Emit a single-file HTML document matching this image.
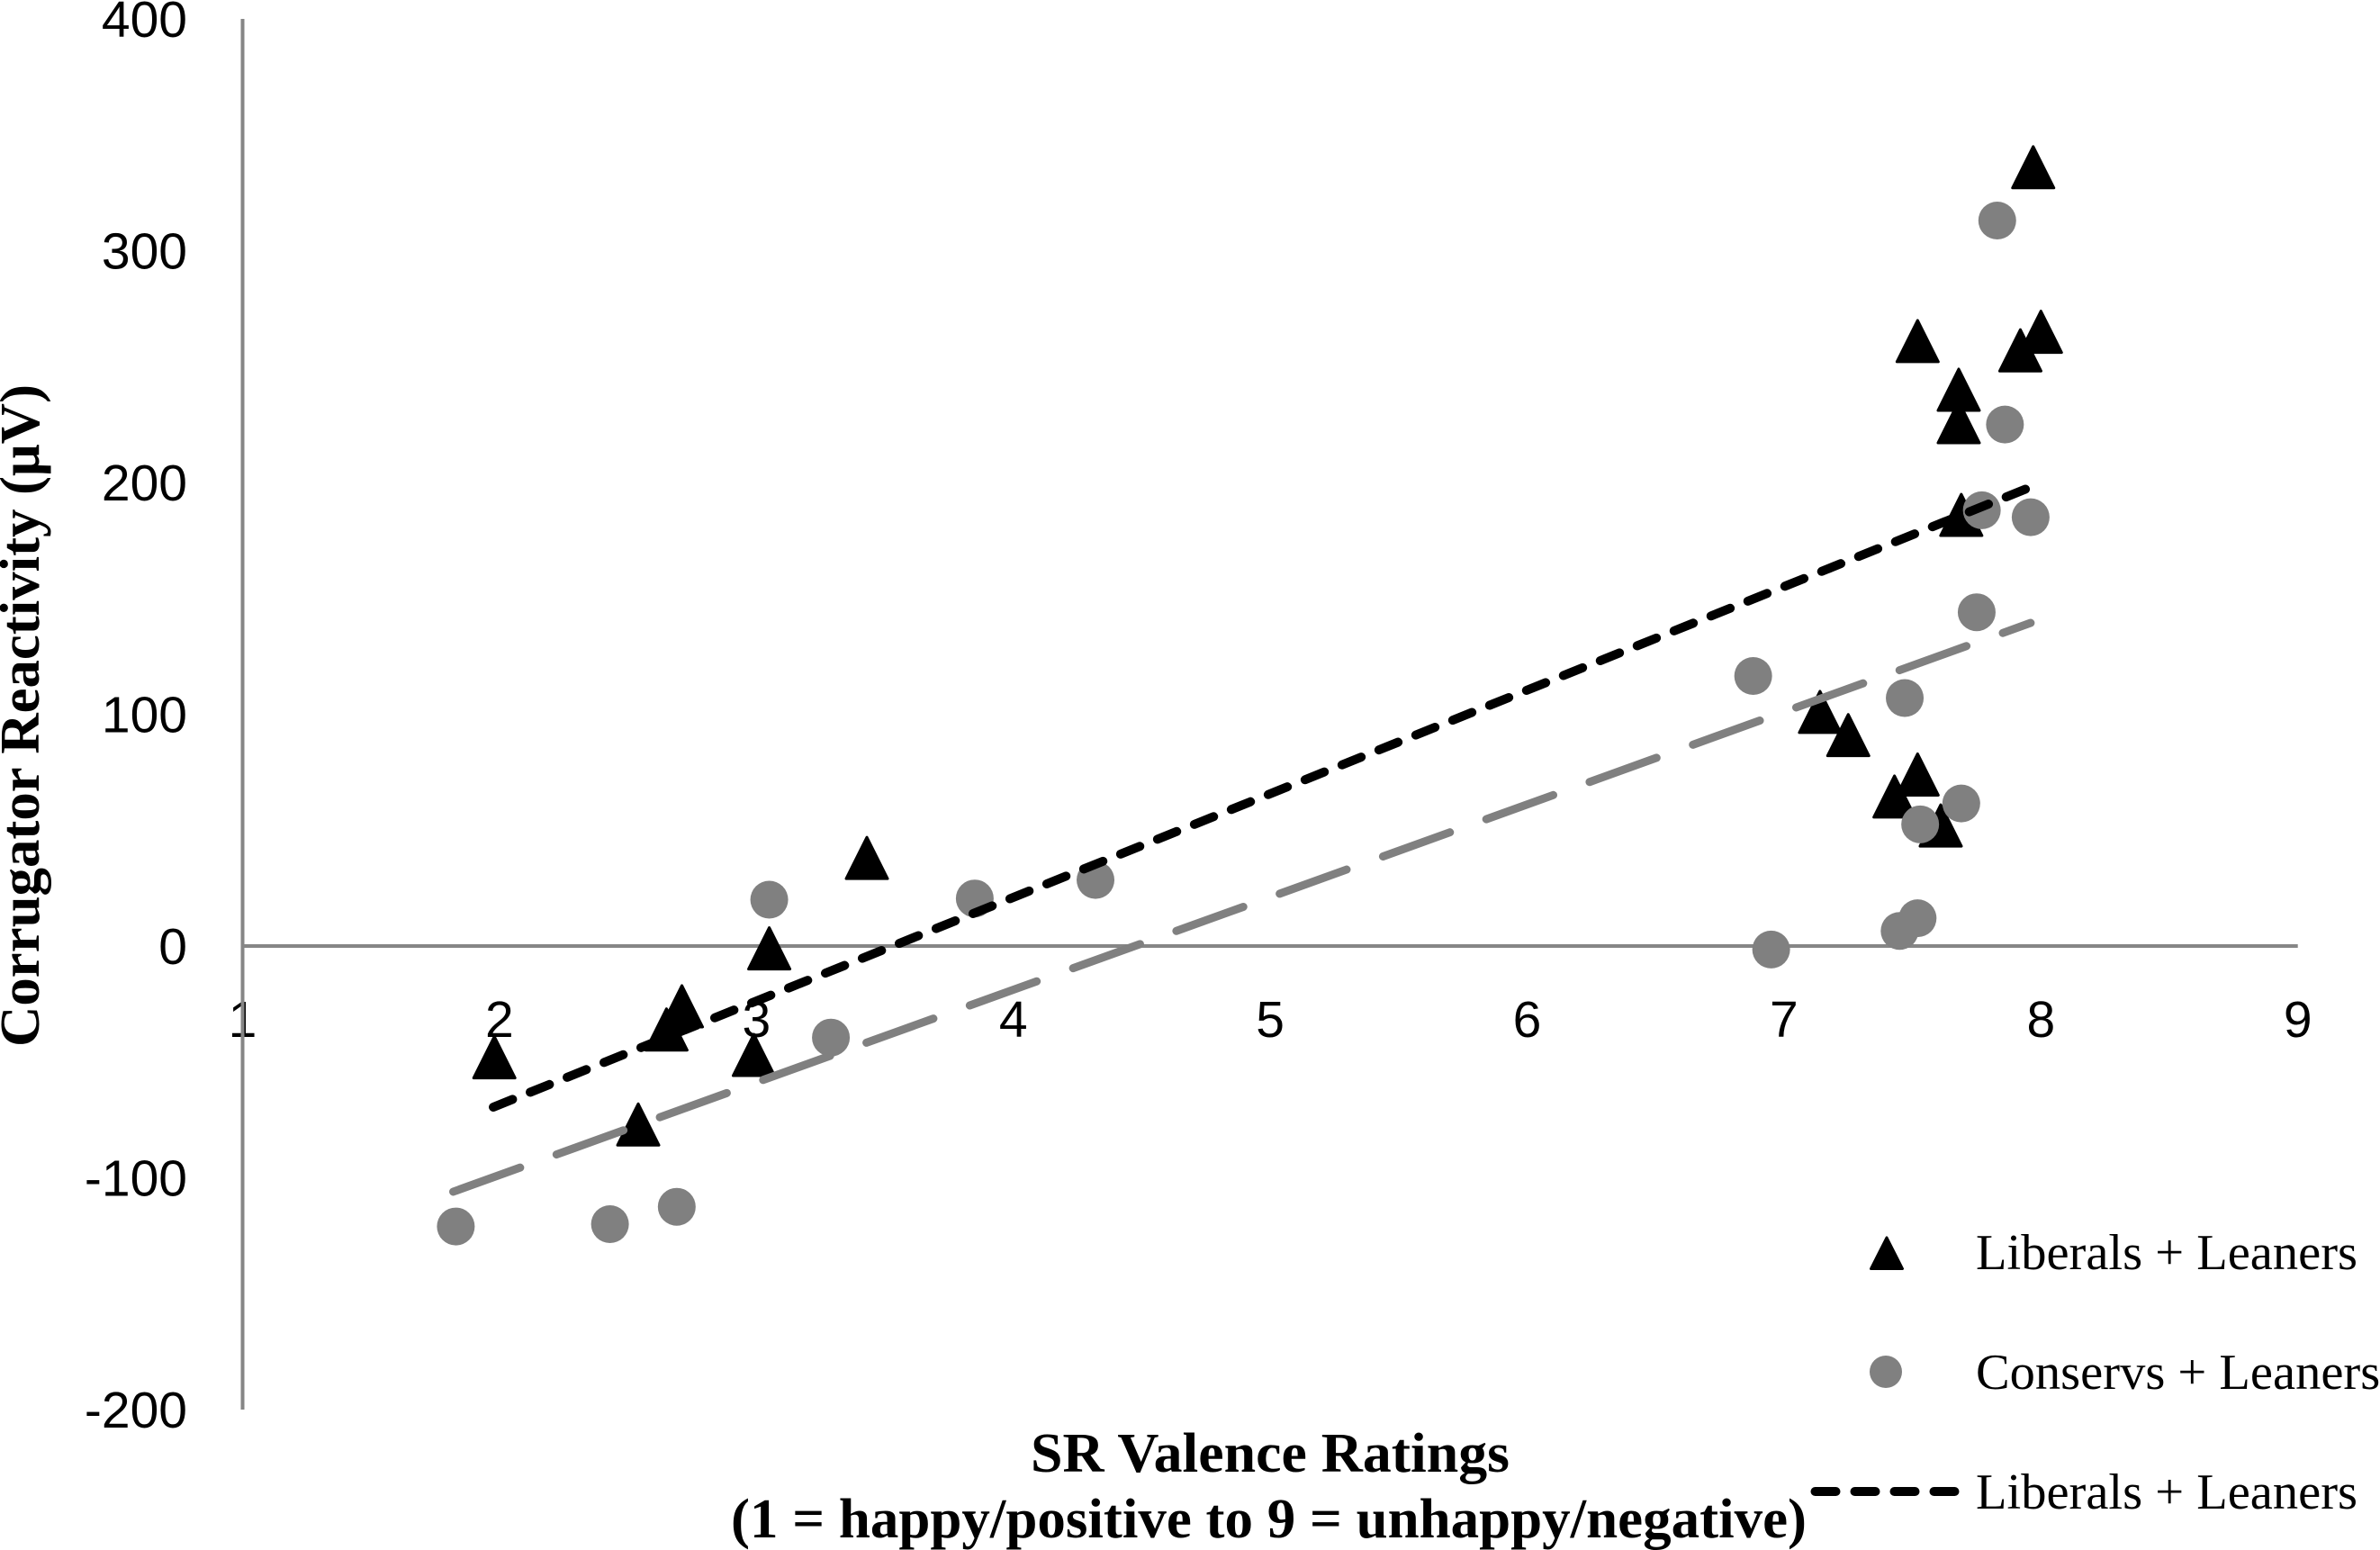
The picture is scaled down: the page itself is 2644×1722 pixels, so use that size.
<!DOCTYPE html>
<html lang="en">
<head>
<meta charset="utf-8">
<title>Corrugator Reactivity vs SR Valence Ratings</title>
<style>
html,body{margin:0;padding:0;background:#fff;width:2644px;height:1722px;overflow:hidden}
svg{display:block}
.tick{font-family:"Liberation Sans",sans-serif;font-size:57px;fill:#000}
.legend{font-family:"Liberation Serif",serif;font-size:56.5px;fill:#000}
.title{font-family:"Liberation Serif",serif;font-weight:bold;font-size:62px;fill:#000}
</style>
</head>
<body>
<svg id="chart" xmlns="http://www.w3.org/2000/svg" width="2644" height="1722" viewBox="0 0 2644 1722">
  <rect x="0" y="0" width="2644" height="1722" fill="#fff"/>
  <g id="axes"></g>
  <g id="marks"></g>
  <text class="title" transform="translate(43 1163) rotate(-90)" textLength="736" lengthAdjust="spacingAndGlyphs">Corrugator Reactivity (μV)</text>
  <text class="title" x="1145" y="1635" textLength="532" lengthAdjust="spacingAndGlyphs">SR Valence Ratings</text>
  <text class="title" x="812" y="1708" textLength="1195" lengthAdjust="spacingAndGlyphs">(1 = happy/positive to 9 = unhappy/negative)</text>
  <g>
    <path d="M2096 1375 L2113.5 1409.5 L2078.5 1409.5 Z" fill="#000" stroke="#000" stroke-width="3" stroke-linejoin="round"/>
    <text class="legend" x="2195" y="1410" textLength="424" lengthAdjust="spacingAndGlyphs">Liberals + Leaners</text>
    <circle cx="2095" cy="1524" r="18" fill="#808080"/>
    <text class="legend" x="2195" y="1543">Conservs + Leaners</text>
    <line x1="2016.5" y1="1657" x2="2172.5" y2="1657" stroke="#000" stroke-width="10" stroke-linecap="round" stroke-dasharray="23 21"/>
    <text class="legend" x="2195" y="1676" textLength="424" lengthAdjust="spacingAndGlyphs">Liberals + Leaners</text>
  </g>
</svg>
<script>
const xTicks = [1, 2, 3, 4, 5, 6, 7, 8, 9];
const yTicks = [400, 300, 200, 100, 0, -100, -200];

const liberalsX = [7.97, 7.52, 8.00, 7.92, 7.68, 7.68, 7.69, 7.14, 7.25, 7.52, 7.43, 7.61, 3.43, 3.05, 2.71, 2.65, 1.98, 2.99, 2.54];
const liberalsY = [336, 261, 265, 257, 240, 226, 186, 101, 91, 74, 64.5, 52, 38, -1, -26, -36, -48, -47, -77];

const conservsX = [7.83, 7.86, 7.77, 7.96, 7.75, 6.88, 7.47, 7.69, 7.53, 7.52, 7.45, 6.95, 3.05, 3.85, 4.32, 3.29, 1.83, 2.43, 2.69];
const conservsY = [313, 225, 188, 185, 144, 116.5, 107, 61.5, 52.5, 12, 6.5, -1.5, 20, 20.5, 28.5, -39.5, -121, -120, -112.5];

const liberalsTrendX = [1.976, 7.96];
const liberalsTrendY = [-69.5, 198];
const conservsTrendX = [1.82, 7.96];
const conservsTrendY = [-106, 139.4];

function xScale(v) { return 269.5 + (v - 1) * 285.4; }
function yScale(v) { return 1051 - v * 2.575; }

const SVG_NS = 'http://www.w3.org/2000/svg';
const axes = document.getElementById('axes');
const marks = document.getElementById('marks');

function make(tag, parent) {
  const el = document.createElementNS(SVG_NS, tag);
  parent.appendChild(el);
  return el;
}

yTicks.forEach(function (t) {
  const el = make('text', axes);
  
  
  el.setAttribute('class', 'tick');
  el.setAttribute('x', 208);
  el.setAttribute('y', yScale(t) + 20);
  el.setAttribute('text-anchor', 'end');
  el.textContent = String(t);
});

xTicks.forEach(function (t) {
  const el = make('text', axes);
  
  
  el.setAttribute('class', 'tick');
  el.setAttribute('x', xScale(t));
  el.setAttribute('y', 1152);
  el.setAttribute('text-anchor', 'middle');
  el.textContent = String(t);
});

const yAxisLine = make('line', axes);


yAxisLine.setAttribute('x1', xScale(xTicks[0]));
yAxisLine.setAttribute('x2', xScale(xTicks[0]));
yAxisLine.setAttribute('y1', yScale(yTicks[0]));
yAxisLine.setAttribute('y2', yScale(yTicks[yTicks.length - 1]));
yAxisLine.setAttribute('stroke', '#868686');
yAxisLine.setAttribute('stroke-width', 4);

const xAxisLine = make('line', axes);


xAxisLine.setAttribute('x1', xScale(xTicks[0]));
xAxisLine.setAttribute('x2', xScale(xTicks[xTicks.length - 1]));
xAxisLine.setAttribute('y1', yScale(0));
xAxisLine.setAttribute('y2', yScale(0));
xAxisLine.setAttribute('stroke', '#868686');
xAxisLine.setAttribute('stroke-width', 4);

liberalsX.forEach(function (v, i) {
  const cx = xScale(v);
  const cy = yScale(liberalsY[i]);
  const el = make('path', marks);
  
  
  el.setAttribute('d', 'M' + cx + ' ' + (cy - 23) + ' L' + (cx + 23) + ' ' + (cy + 23) + ' L' + (cx - 23) + ' ' + (cy + 23) + ' Z');
  el.setAttribute('fill', '#000');
  el.setAttribute('stroke', '#000');
  el.setAttribute('stroke-width', 3);
  el.setAttribute('stroke-linejoin', 'round');
});

conservsX.forEach(function (v, i) {
  const el = make('circle', marks);
  
  
  el.setAttribute('cx', xScale(v));
  el.setAttribute('cy', yScale(conservsY[i]));
  el.setAttribute('r', 21);
  el.setAttribute('fill', '#808080');
});

const conservsTrend = make('line', marks);


conservsTrend.setAttribute('x1', xScale(conservsTrendX[0]));
conservsTrend.setAttribute('y1', yScale(conservsTrendY[0]));
conservsTrend.setAttribute('x2', xScale(conservsTrendX[1]));
conservsTrend.setAttribute('y2', yScale(conservsTrendY[1]));
conservsTrend.setAttribute('stroke', '#808080');
conservsTrend.setAttribute('stroke-width', 9);
conservsTrend.setAttribute('stroke-linecap', 'round');
conservsTrend.setAttribute('stroke-dasharray', '79 43');

const liberalsTrend = make('line', marks);


liberalsTrend.setAttribute('x1', xScale(liberalsTrendX[0]));
liberalsTrend.setAttribute('y1', yScale(liberalsTrendY[0]));
liberalsTrend.setAttribute('x2', xScale(liberalsTrendX[1]));
liberalsTrend.setAttribute('y2', yScale(liberalsTrendY[1]));
liberalsTrend.setAttribute('stroke', '#000');
liberalsTrend.setAttribute('stroke-width', 10);
liberalsTrend.setAttribute('stroke-linecap', 'round');
liberalsTrend.setAttribute('stroke-dasharray', '23 21.2');
</script>
</body>
</html>
